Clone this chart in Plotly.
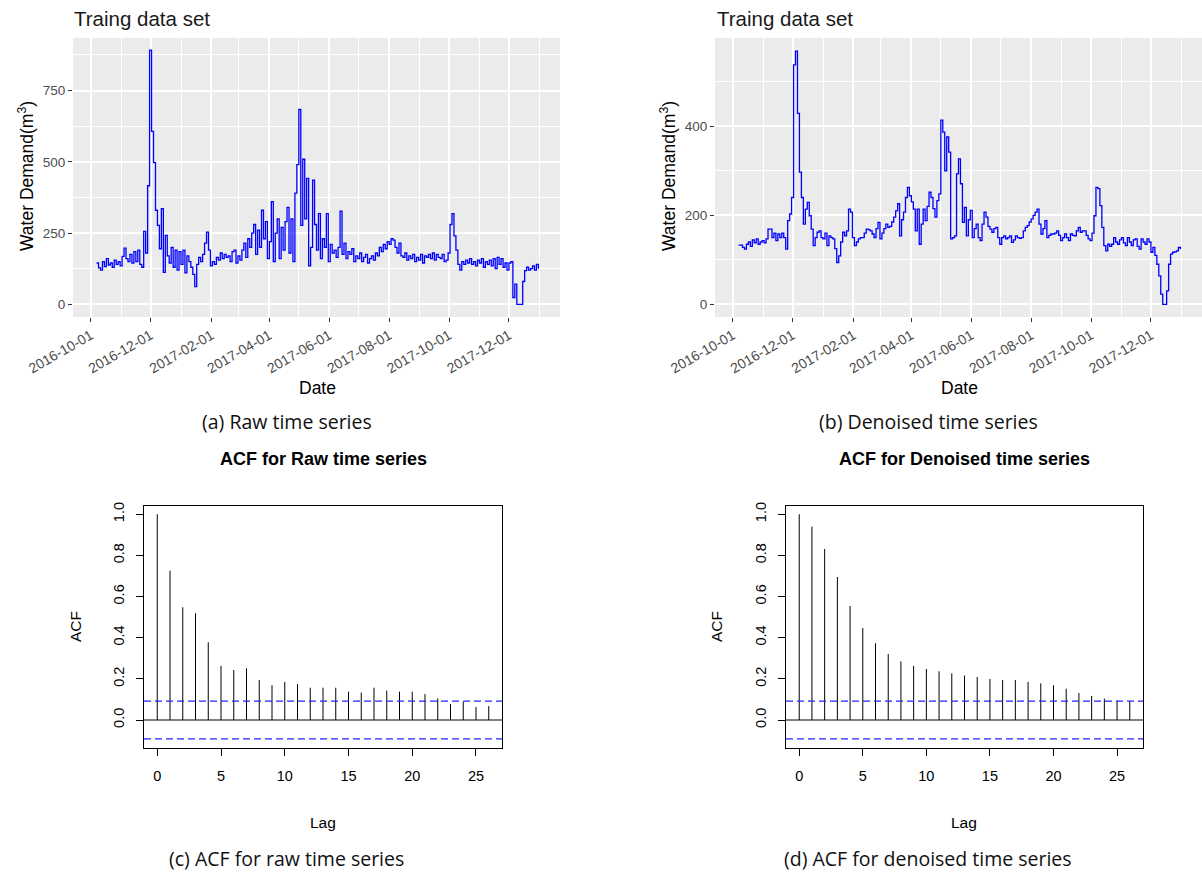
import pandas as pd
import plotly.graph_objects as go

# ---------------- data ----------------
start_date = "2016-10-07"
step = "2D"

raw_demand = [
    145, 128, 120, 150, 132, 160, 138, 145, 130, 155, 140, 150, 135, 168, 197, 160, 150, 175, 145, 185,
    150, 190, 140, 130, 256, 180, 416, 892, 607, 497, 330, 277, 195, 336, 112, 242, 170, 145, 200, 130,
    190, 120, 185, 140, 190, 110, 170, 150, 130, 105, 62, 140, 165, 150, 175, 215, 253, 190, 135, 150,
    140, 165, 155, 180, 160, 175, 165, 170, 150, 185, 190, 145, 170, 155, 190, 215, 165, 230, 200, 250,
    280, 175, 260, 200, 330, 230, 290, 160, 220, 360, 150, 250, 300, 160, 270, 190, 290, 340, 180, 300,
    150, 390, 490, 684, 277, 509, 300, 442, 135, 200, 436, 280, 190, 318, 160, 230, 200, 318, 150, 210,
    180, 190, 165, 200, 327, 175, 215, 160, 185, 175, 195, 150, 170, 160, 180, 150, 165, 175, 145, 160,
    170, 155, 180, 170, 200, 185, 210, 195, 220, 210, 230, 225, 200, 180, 215, 170, 165, 180, 155, 170,
    160, 175, 150, 165, 155, 175, 145, 170, 165, 175, 160, 180, 155, 175, 165, 160, 175, 150, 155, 180,
    280, 318, 240, 190, 140, 120, 150, 140, 155, 145, 160, 140, 150, 135, 155, 145, 160, 130, 150, 140,
    155, 135, 160, 125, 165, 140, 160, 130, 145, 120, 145, 150, 24, 71, 0, 0, 0, 80, 118, 130,
    120, 125, 135, 120, 140, 125,
]

denoised_demand = [
    133, 133, 128, 124, 135, 140, 130, 145, 138, 147, 135, 140, 143, 138, 147, 169, 169, 150, 160, 143,
    158, 150, 160, 150, 124, 188, 203, 240, 538, 569, 429, 297, 240, 180, 214, 229, 199, 169, 132, 150,
    162, 165, 150, 147, 160, 132, 154, 150, 147, 125, 94, 109, 140, 162, 154, 165, 214, 207, 150, 132,
    140, 147, 150, 150, 160, 169, 168, 165, 158, 150, 170, 184, 147, 160, 170, 180, 173, 175, 185, 196,
    210, 226, 154, 190, 207, 240, 263, 244, 230, 214, 165, 214, 135, 180, 214, 188, 220, 252, 240, 215,
    196, 233, 248, 414, 387, 300, 376, 342, 147, 150, 154, 293, 327, 271, 184, 218, 154, 190, 211, 150,
    170, 180, 150, 143, 180, 207, 196, 175, 169, 162, 170, 173, 150, 135, 150, 154, 147, 150, 154, 139,
    145, 154, 150, 148, 150, 165, 173, 177, 185, 192, 200, 207, 214, 180, 158, 170, 188, 150, 155, 158,
    158, 160, 165, 155, 143, 150, 158, 150, 143, 158, 155, 154, 165, 173, 162, 165, 165, 155, 147, 143,
    160, 199, 263, 260, 222, 173, 132, 120, 135, 130, 135, 150, 140, 135, 145, 150, 138, 132, 150, 140,
    132, 145, 147, 130, 124, 147, 140, 135, 147, 140, 117, 128, 110, 90, 64, 23, 0, 0, 30, 90,
    113, 117, 118, 120, 128, 124,
]

lags = list(range(27))
acf_raw = [1.0, 0.726, 0.548, 0.519, 0.378, 0.263, 0.243, 0.251, 0.194, 0.169, 0.185, 0.175, 0.157, 0.157,
           0.157, 0.138, 0.133, 0.157, 0.143, 0.138, 0.138, 0.126, 0.105, 0.078, 0.089, 0.063, 0.068]
acf_denoised = [1.0, 0.940, 0.831, 0.695, 0.554, 0.447, 0.373, 0.321, 0.285, 0.263, 0.248, 0.237, 0.227,
                0.216, 0.209, 0.199, 0.194, 0.194, 0.185, 0.178, 0.169, 0.152, 0.131, 0.117, 0.104, 0.094, 0.091]
conf_bound = 0.092

date_ticks = ["2016-10-01", "2016-12-01", "2017-02-01", "2017-04-01",
              "2017-06-01", "2017-08-01", "2017-10-01", "2017-12-01"]
acf_ticks_y = [0.0, 0.2, 0.4, 0.6, 0.8, 1.0]
acf_ticks_x = [0, 5, 10, 15, 20, 25]

top_title = "Traing data set"
captions = ["(a) Raw time series", "(b) Denoised time series",
            "(c) ACF for raw time series", "(d) ACF for denoised time series"]
acf_titles = ["ACF for Raw time series", "ACF for Denoised time series"]

dates = pd.date_range(start_date, periods=len(raw_demand), freq=step)

# ---------------- layout helpers ----------------
W, H = 1202, 874


def px_x(v):
    return v / W


def px_y(v):
    return 1 - v / H


GG_FONT = "Liberation Sans, Arial, sans-serif"
CAP_FONT = "Open Sans, Noto Sans, sans-serif"

fig = go.Figure()

fig.add_trace(go.Scatter(x=dates, y=raw_demand, mode="lines", line=dict(color="#0000FF", width=1.3, shape="hv"),
                         xaxis="x", yaxis="y", showlegend=False))
fig.add_trace(go.Scatter(x=dates, y=denoised_demand, mode="lines", line=dict(color="#0000FF", width=1.3, shape="hv"),
                         xaxis="x2", yaxis="y2", showlegend=False))


def acf_segments(vals):
    xs, ys = [], []
    for l, v in zip(lags, vals):
        xs += [l, l, None]
        ys += [0, v, None]
    return xs, ys


for vals, xa, ya in [(acf_raw, "x3", "y3"), (acf_denoised, "x4", "y4")]:
    sx, sy = acf_segments(vals)
    fig.add_trace(go.Scatter(x=sx, y=sy, mode="lines", line=dict(color="black", width=1),
                             xaxis=xa, yaxis=ya, showlegend=False))
    xr = [-1.04, 27.04]
    fig.add_trace(go.Scatter(x=xr, y=[0, 0], mode="lines", line=dict(color="black", width=1),
                             xaxis=xa, yaxis=ya, showlegend=False))
    for b in (conf_bound, -conf_bound):
        fig.add_trace(go.Scatter(x=xr, y=[b, b], mode="lines",
                                 line=dict(color="#2222FF", width=1.2, dash="7px,4px"),
                                 xaxis=xa, yaxis=ya, showlegend=False))

# domains
dom_top_y = [px_y(317), px_y(38)]
dom_bot_y = [px_y(748), px_y(506)]
dom = {
    "x": [px_x(73), px_x(560)],
    "x2": [px_x(715), 1.0],
    "x3": [px_x(144), px_x(502)],
    "x4": [px_x(786), px_x(1143)],
}

date_axis = dict(
    type="date", tickvals=date_ticks, tickformat="%Y-%m-%d", tickangle=-30,
    ticks="outside", ticklen=4, tickcolor="#333333", tickwidth=1, automargin=False,
    tickfont=dict(family=GG_FONT, size=14, color="#4D4D4D"),
    showgrid=True, gridcolor="white", gridwidth=1.6, zeroline=False, showline=False,
    range=["2016-09-13", "2018-01-22"],
    minor=dict(dtick="M1", tick0="2016-09-01", showgrid=True, gridcolor="white", gridwidth=0.8),
)
val_axis = dict(
    ticks="outside", ticklen=4, tickcolor="#333333", tickwidth=1, automargin=False,
    tickfont=dict(family=GG_FONT, size=13.5, color="#4D4D4D"),
    showgrid=True, gridcolor="white", gridwidth=1.6, zeroline=False, showline=False,
)
acf_x_axis = dict(
    range=[-1.04, 27.04], tickvals=acf_ticks_x, ticks="outside", ticklen=7, tickcolor="black",
    tickfont=dict(family=GG_FONT, size=14.5, color="black"), ticklabelstandoff=8, automargin=False,
    showgrid=False, zeroline=False, showline=True, linecolor="black", linewidth=1, mirror=True,
)
acf_y_axis = dict(
    range=[-0.136, 1.04], tickvals=acf_ticks_y, tickformat=".1f", tickangle=-90,
    ticks="outside", ticklen=7, tickcolor="black", automargin=False,
    tickfont=dict(family=GG_FONT, size=14.5, color="black"), ticklabelstandoff=6,
    showgrid=False, zeroline=False, showline=True, linecolor="black", linewidth=1, mirror=True,
)

fig.update_layout(
    width=W, height=H, autosize=False,
    margin=dict(l=0, r=0, t=0, b=0, autoexpand=False),
    paper_bgcolor="white", plot_bgcolor="rgba(0,0,0,0)",
    xaxis=dict(date_axis, domain=dom["x"], anchor="y"),
    yaxis=dict(val_axis, domain=dom_top_y, anchor="x", range=[-44.5, 934.5], tickvals=[0, 250, 500, 750],
               minor=dict(dtick=125, tick0=125, showgrid=True, gridcolor="white", gridwidth=0.8)),
    xaxis2=dict(date_axis, domain=dom["x2"], anchor="y2"),
    yaxis2=dict(val_axis, domain=dom_top_y, anchor="x2", range=[-28.5, 598.5], tickvals=[0, 200, 400],
                minor=dict(dtick=100, tick0=100, showgrid=True, gridcolor="white", gridwidth=0.8)),
    xaxis3=dict(acf_x_axis, domain=dom["x3"], anchor="y3"),
    yaxis3=dict(acf_y_axis, domain=dom_bot_y, anchor="x3"),
    xaxis4=dict(acf_x_axis, domain=dom["x4"], anchor="y4"),
    yaxis4=dict(acf_y_axis, domain=dom_bot_y, anchor="x4"),
)

# grey panel backgrounds (ggplot)
for xd in (dom["x"], dom["x2"]):
    fig.add_shape(type="rect", xref="paper", yref="paper", x0=xd[0], x1=xd[1], y0=dom_top_y[0], y1=dom_top_y[1],
                  fillcolor="#EBEBEB", line=dict(width=0), layer="below")

ann = []
# top titles
for xp in (72, 715):
    ann.append(dict(text=top_title, x=px_x(xp), y=px_y(18), xanchor="left", yanchor="middle",
                    font=dict(family=GG_FONT, size=20.5, color="#1A1A1A")))
# y-axis titles top
for xp in (26, 668):
    ann.append(dict(text="Water Demand(m<sup>3</sup>)", x=px_x(xp), y=px_y(176), textangle=-90,
                    xanchor="center", yanchor="middle", font=dict(family=GG_FONT, size=17.5, color="black")))
# Date titles
for xp in (317, 959):
    ann.append(dict(text="Date", x=px_x(xp), y=px_y(388), xanchor="center", yanchor="middle",
                    font=dict(family=GG_FONT, size=17.5, color="black")))
# captions
for (xp, yp), txt in zip([(287, 421), (928, 421), (286, 858), (928, 858)], captions):
    ann.append(dict(text=txt, x=px_x(xp), y=px_y(yp), xanchor="center", yanchor="middle",
                    font=dict(family=CAP_FONT, size=19.5, color="#111111")))
# ACF titles
for xp, txt in zip((323, 964), acf_titles):
    ann.append(dict(text="<b>" + txt + "</b>", x=px_x(xp), y=px_y(459), xanchor="center", yanchor="middle",
                    font=dict(family=GG_FONT, size=18, color="black")))
# ACF axis labels
for xp in (75, 716):
    ann.append(dict(text="ACF", x=px_x(xp), y=px_y(627), textangle=-90, xanchor="center", yanchor="middle",
                    font=dict(family=GG_FONT, size=15.5, color="black")))
for xp in (323, 964):
    ann.append(dict(text="Lag", x=px_x(xp), y=px_y(822), xanchor="center", yanchor="middle",
                    font=dict(family=GG_FONT, size=15.5, color="black")))

fig.update_layout(annotations=[dict(a, xref="paper", yref="paper", showarrow=False) for a in ann])

fig.write_html("out.html")
